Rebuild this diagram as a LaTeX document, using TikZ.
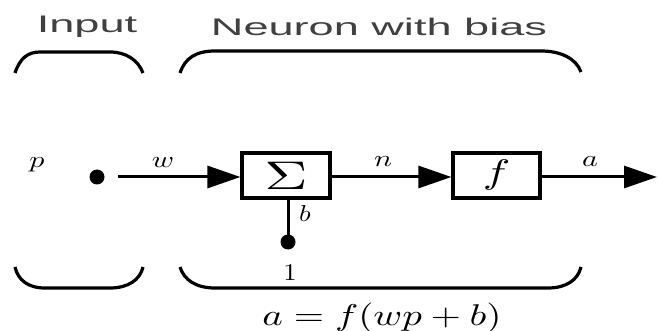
\documentclass[tikz,border=0pt]{standalone}
\usepackage{fontspec}
\setsansfont{Liberation Sans}
\usepackage{graphicx}
\usetikzlibrary{arrows.meta}
\newcommand{\hstr}[1]{\scalebox{1.88}[1]{#1}}
\newcommand{\mstr}[3]{\scalebox{#1}[#2]{#3}}
\begin{document}
\begin{tikzpicture}[x=1pt,y=-1pt,
  wire/.style={line width=3pt},
  brace/.style={line width=3.2pt},
  blockbox/.style={draw,line width=3.2pt,minimum height=45pt,inner sep=0pt},
  blob/.style={circle,fill=black,minimum size=15pt,inner sep=0pt},
  head/.style={text=black!75,font=\sffamily\fontsize{24}{28}\selectfont,inner sep=0pt},
  lab/.style={inner sep=0pt},
  tip/.style={-{Triangle[length=33pt,width=22pt]}}]
\useasboundingbox (0,0) rectangle (658,331);
% headers
\node[head] (hin) at (87,27) {\hstr{Input}};
\node[head] (hneu) at (379,27) {\hstr{Neuron with bias}};
% braces
\draw[brace] (15,73) .. controls (20,58) and (28,52) .. (40,52) -- (110,52) .. controls (126,52) and (138,60) .. (143,73);
\draw[brace] (180,73) .. controls (185,58) and (196,51) .. (215,51) -- (541,51) .. controls (560,51) and (576,58) .. (581,72);
\draw[brace] (15,267) .. controls (18,280) and (28,288) .. (45,288) -- (110,288) .. controls (128,288) and (140,280) .. (143,267);
\draw[brace] (180,267) .. controls (184,280) and (196,288) .. (215,288) -- (548,288) .. controls (566,288) and (578,280) .. (581,267);
% nodes
\node[blockbox,minimum width=88pt] (sum) at (286,175.5) {\mstr{6}{4}{$\Sigma$}};
\node[blockbox,minimum width=87pt] (fbox) at (496.5,175.5) {\mstr{4.6}{3.4}{$f$}};
\node[blob] (pin) at (97,177) {};
\node[blob] (bdot) at (288,242) {};
\coordinate (out) at (657,177);
% connectors
\draw[wire,tip,shorten <=13pt] (pin) -- (pin -| sum.west);
\draw[wire,tip] (sum.east |- 0,177) -- (fbox.west |- 0,177);
\draw[wire,tip] (fbox.east |- 0,177) -- (out);
\draw[wire] (bdot.center) -- (bdot.center |- sum.south);
% labels
\node[lab] (lp) at (37,165) {\mstr{3.0}{2.3}{$p$}};
\node[lab] (lw) at (163,163) {\mstr{3.0}{2.3}{$w$}};
\node[lab] (ln) at (383,162) {\mstr{3.0}{2.3}{$n$}};
\node[lab] (la) at (590,162) {\mstr{3.0}{2.3}{$a$}};
\node[lab] (lb) at (305,214) {\mstr{2.7}{2.3}{$b$}};
\node[lab] (l1) at (290,273) {\mstr{2.7}{2.4}{$1$}};
\node[lab] (eq) at (382,318) {\mstr{3.9}{3.0}{$a=f(wp+b)$}};
\end{tikzpicture}
\end{document}
